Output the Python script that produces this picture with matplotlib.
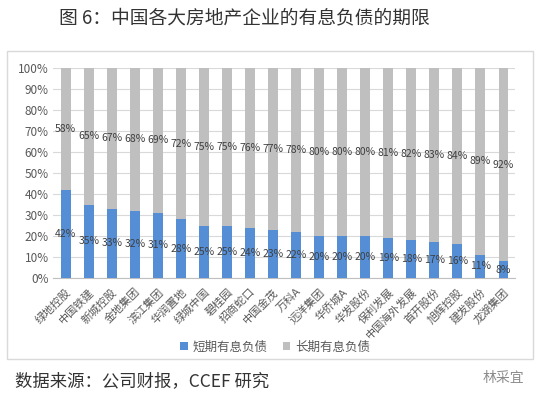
import numpy as np
import matplotlib
matplotlib.use("Agg")
import matplotlib.pyplot as plt
from matplotlib.patches import Rectangle

plt.rcParams['font.family'] = ['Noto Sans CJK SC', 'DejaVu Sans']

firmy = ["绿地控股", "中国铁建", "新城控股", "金地集团", "滨江集团", "华润置地",
         "绿城中国", "碧桂园", "招商蛇口", "中国金茂", "万科A", "远洋集团",
         "华侨城A", "华发股份", "保利发展", "中国海外发展", "首开股份", "旭辉控股",
         "建发股份", "龙湖集团"]
krotkie = [42, 35, 33, 32, 31, 28, 25, 25, 24, 23, 22, 20, 20, 20, 19, 18, 17, 16, 11, 8]
dlugie = [58, 65, 67, 68, 69, 72, 75, 75, 76, 77, 78, 80, 80, 80, 81, 82, 83, 84, 89, 92]
yticks = [0, 10, 20, 30, 40, 50, 60, 70, 80, 90, 100]

niebieski = '#558ED5'
szary = '#BFBFBF'

fig = plt.figure(figsize=(5.41, 3.97), dpi=100)
ax = fig.add_axes([53 / 541, 1 - 278 / 397, 462 / 541, 210 / 397])

x = np.arange(len(firmy))
ax.bar(x, krotkie, width=0.43, color=niebieski, zorder=3, label="短期有息负债")
ax.bar(x, dlugie, bottom=krotkie, width=0.43, color=szary, zorder=3, label="长期有息负债")

# etykiety danych
for i in range(len(firmy)):
    ax.text(x[i], krotkie[i] / 2, f"{krotkie[i]}%", ha='center', va='center',
            fontsize=7.5, color='#404040', zorder=4)
    ax.text(x[i], krotkie[i] + dlugie[i] / 2, f"{dlugie[i]}%", ha='center', va='center',
            fontsize=7.5, color='#404040', zorder=4)

ax.set_xlim(-0.55, 19.5)
ax.set_ylim(0, 100)
ax.set_yticks(yticks)
ax.set_yticklabels([f"{v}%" for v in yticks], fontsize=8.5, color='#595959')
ax.set_xticks(x)
ax.set_xticklabels(firmy, rotation=45, ha='right', va='top', rotation_mode='anchor',
                   fontsize=8, color='#595959')
ax.tick_params(axis='y', length=0, pad=3)
ax.tick_params(axis='x', length=0, pad=6)
ax.yaxis.grid(True, color='#D9D9D9', linewidth=0.8, zorder=0)
for s in ['top', 'right', 'left']:
    ax.spines[s].set_visible(False)
ax.spines['bottom'].set_color('#BFBFBF')

leg = fig.legend(loc='center', bbox_to_anchor=(275 / 541, 1 - 347 / 397), ncol=2,
                 frameon=False, fontsize=9, handlelength=0.6, handleheight=0.6,
                 columnspacing=1.2, handletextpad=0.4)
for t in leg.get_texts():
    t.set_color('#595959')

# ramka wykresu
fig.patches.append(Rectangle((7 / 541, 1 - 359 / 397), 526 / 541, 308 / 397,
                             transform=fig.transFigure, fill=False,
                             edgecolor='#D9D9D9', linewidth=1))

fig.text(59 / 541, 1 - 18 / 397, "图 6：中国各大房地产企业的有息负债的期限",
         fontsize=13.5, color='#333333', ha='left', va='center')
fig.text(15 / 541, 1 - 381 / 397, "数据来源：公司财报，CCEF 研究",
         fontsize=12.5, color='#333333', ha='left', va='center')
fig.text(483 / 541, 1 - 378 / 397, "林采宜", fontsize=10, color='#8C8C8C',
         ha='left', va='center')

fig.savefig("out.png", dpi=100)
